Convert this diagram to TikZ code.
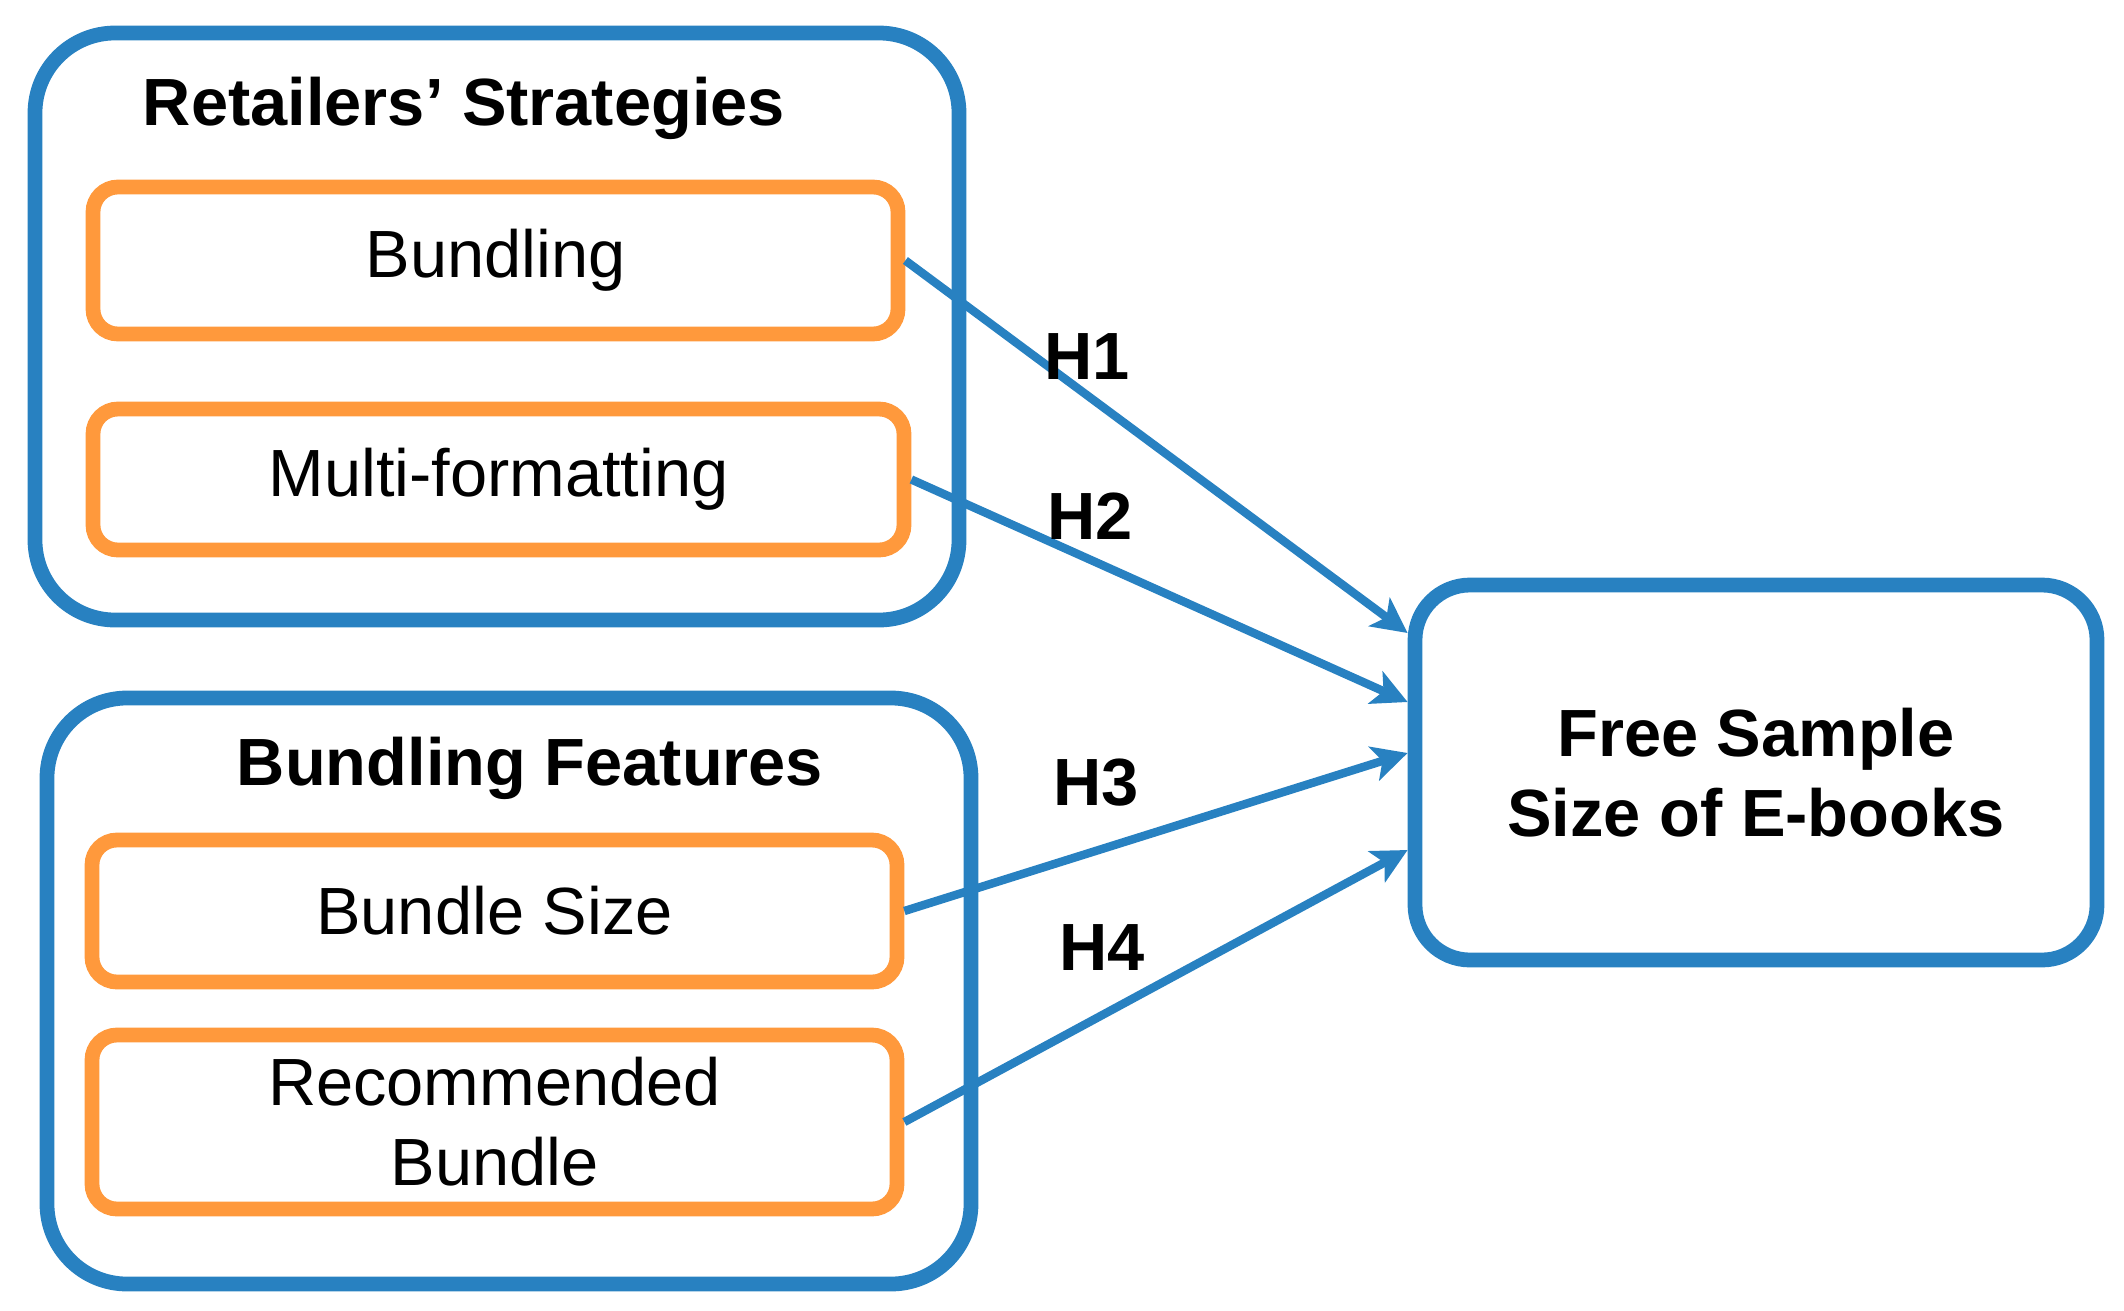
\documentclass[tikz,border=0pt]{standalone}
\usepackage{fontspec}
\setmainfont{Liberation Sans}
\usetikzlibrary{arrows.meta}
\definecolor{boxblue}{HTML}{2881C1}
\definecolor{boxorange}{HTML}{FF993C}
\newcommand{\diagfont}{\fontsize{19}{22.7}\selectfont}

\tikzset{
	group/.style={draw=boxblue, line width=4.2pt, rounded corners=0.8cm, minimum width=9.24cm},
	factor/.style={draw=boxorange, line width=4.2pt, rounded corners=0.25cm, minimum width=8.05cm, align=center, font=\diagfont},
	outcome/.style={draw=boxblue, line width=4.2pt, rounded corners=0.55cm, minimum width=6.82cm, minimum height=3.75cm, align=center, font=\diagfont\bfseries},
	grouptitle/.style={anchor=base, font=\diagfont\bfseries},
	hyp/.style={draw=boxblue, line width=2.4pt, -{Stealth[length=10pt,width=10pt,inset=2.5pt]}},
	hlab/.style={font=\diagfont\bfseries},
}

\begin{document}
\begin{tikzpicture}
\useasboundingbox (0,0) rectangle (21.24,-13.10);
% groups of factors
\node[group, minimum height=5.87cm] (strat) at (4.97,-3.265) {};
\node[group, minimum height=5.86cm] (feat) at (5.09,-9.91) {};
\node[grouptitle] (strattitle) at (4.64,-1.25) {Retailers' Strategies};
\node[grouptitle] (feattitle) at (5.30,-7.85) {Bundling Features};
% factors
\node[factor, minimum height=1.47cm] (bund) at (4.955,-2.605) {Bundling};
\node[factor, minimum height=1.41cm, minimum width=8.11cm] (multi) at (4.985,-4.795) {Multi-formatting};
\node[factor, minimum height=1.42cm] (size) at (4.945,-9.11) {Bundle Size};
\node[factor, minimum height=1.74cm] (rec) at (4.945,-11.22) {Recommended\\Bundle};
% outcome
\node[outcome] (free) at (17.56,-7.725) {Free Sample\\Size of E-books};
% hypotheses
\draw[hyp] (bund.east) -- ([yshift=1.395cm]free.west);
\draw[hyp] (multi.east) -- ([yshift=0.705cm]free.west);
\draw[hyp] (size.east) -- ([yshift=0.195cm]free.west);
\draw[hyp] (rec.east) -- ([yshift=-0.775cm]free.west);
\node[hlab] (h1) at (10.87,-3.57) {H1};
\node[hlab] (h2) at (10.90,-5.16) {H2};
\node[hlab] (h3) at (10.96,-7.83) {H3};
\node[hlab] (h4) at (11.02,-9.48) {H4};
\end{tikzpicture}
\end{document}
